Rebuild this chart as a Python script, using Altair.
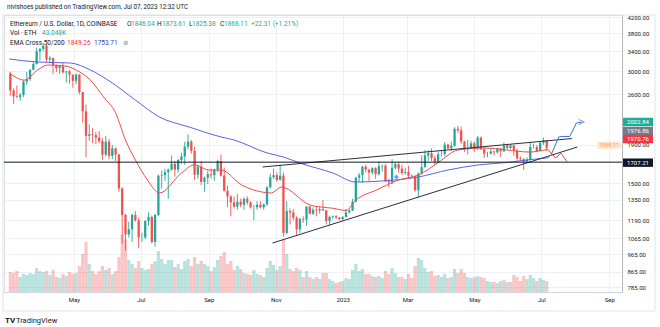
import altair as alt
import pandas as pd
import numpy as np

# ---------------- data ----------------
candle_first_day = "2022-03-03"      # 3-day candles
first_open = 2950.0
closes = [2665, 2570, 2560, 2590, 2815, 2860, 3030, 3140, 3400, 3450,
          3520, 3230, 3260, 3120, 3060, 3100, 2980, 3000, 2940, 2830,
          2940, 2640, 2340, 2010, 2030, 2020, 1990, 1945, 1790, 1940,
          1775, 1860, 1790, 1450, 1230, 1090, 1125, 1230, 1190, 1070,
          1070, 1185, 1215, 1040, 1230, 1570, 1575, 1605, 1630, 1690,
          1630, 1730, 1770, 1880, 1940, 1830, 1580, 1660, 1510, 1550,
          1585, 1575, 1630, 1720, 1570, 1430, 1380, 1330, 1295, 1335,
          1310, 1360, 1330, 1290, 1290, 1310, 1290, 1315, 1460, 1555,
          1575, 1530, 1570, 1100, 1260, 1250, 1210, 1125, 1200, 1195,
          1295, 1240, 1270, 1265, 1275, 1265, 1185, 1215, 1220, 1210,
          1200, 1215, 1250, 1265, 1335, 1550, 1575, 1660, 1630, 1600,
          1645, 1585, 1665, 1670, 1515, 1505, 1650, 1685, 1640, 1595,
          1605, 1570, 1565, 1435, 1590, 1655, 1780, 1805, 1750, 1710,
          1795, 1795, 1905, 1860, 1890, 2100, 2080, 1940, 1860, 1865,
          1920, 1870, 1990, 1850, 1800, 1800, 1825, 1815, 1860, 1825,
          1895, 1865, 1895, 1835, 1750, 1740, 1715, 1735, 1875, 1875,
          1830, 1925, 1955, 1868.11]
highs = [2990, 2700, 2750, 2620, 2840, 2990, 3040, 3180, 3480, 3470,
         3580, 3550, 3300, 3270, 3130, 3120, 3170, 3010, 3030, 2940,
         2960, 2950, 2640, 2440, 2160, 2110, 2060, 2070, 1980, 2010,
         1970, 1900, 1870, 1800, 1460, 1240, 1180, 1240, 1260, 1210,
         1100, 1190, 1250, 1225, 1240, 1580, 1620, 1640, 1640, 1780,
         1720, 1740, 1810, 1940, 2030, 1960, 1880, 1680, 1720, 1560,
         1620, 1640, 1640, 1735, 1790, 1650, 1475, 1390, 1380, 1400,
         1360, 1370, 1380, 1340, 1310, 1340, 1340, 1320, 1470, 1590,
         1640, 1600, 1680, 1600, 1340, 1280, 1275, 1220, 1210, 1220,
         1300, 1300, 1290, 1300, 1290, 1350, 1270, 1225, 1225, 1230,
         1215, 1220, 1275, 1275, 1360, 1560, 1595, 1670, 1680, 1640,
         1655, 1655, 1715, 1680, 1690, 1540, 1740, 1710, 1715, 1680,
         1650, 1670, 1580, 1570, 1600, 1780, 1840, 1840, 1860, 1780,
         1825, 1830, 1935, 1915, 1940, 2120, 2140, 2130, 1950, 1960,
         1950, 1940, 2010, 2000, 1870, 1820, 1850, 1830, 1870, 1860,
         1930, 1915, 1910, 1895, 1855, 1770, 1750, 1760, 1930, 1915,
         1900, 1935, 1990, 1960]
lows = [2580, 2450, 2540, 2500, 2560, 2760, 2830, 3020, 3130, 3210,
        3400, 3180, 3160, 2950, 2990, 2950, 2960, 2800, 2780, 2710,
        2770, 2600, 2180, 1760, 1950, 1920, 1910, 1920, 1730, 1770,
        1740, 1740, 1720, 1420, 1030, 985, 1070, 1040, 1180, 1000,
        1040, 1060, 1150, 1030, 1010, 1220, 1450, 1520, 1360, 1620,
        1560, 1600, 1690, 1680, 1850, 1800, 1530, 1540, 1480, 1420,
        1490, 1540, 1520, 1605, 1560, 1420, 1290, 1220, 1280, 1270,
        1290, 1270, 1310, 1280, 1190, 1270, 1280, 1270, 1300, 1450,
        1540, 1510, 1520, 1075, 1090, 1160, 1190, 1080, 1100, 1170,
        1150, 1235, 1230, 1220, 1240, 1260, 1160, 1150, 1200, 1200,
        1190, 1190, 1210, 1240, 1260, 1330, 1510, 1500, 1600, 1520,
        1580, 1540, 1570, 1610, 1510, 1460, 1490, 1630, 1600, 1580,
        1580, 1550, 1550, 1420, 1370, 1580, 1650, 1720, 1720, 1680,
        1700, 1770, 1770, 1850, 1830, 1880, 2050, 1910, 1820, 1790,
        1860, 1820, 1840, 1840, 1750, 1760, 1790, 1780, 1800, 1765,
        1820, 1850, 1850, 1775, 1720, 1720, 1625, 1710, 1725, 1860,
        1820, 1830, 1900, 1825]
volumes_k = [400, 380, 420, 300, 360, 340, 380, 360, 480, 420,
             400, 420, 340, 440, 300, 280, 360, 320, 400, 360,
             380, 520, 760, 1000, 560, 420, 360, 420, 520, 440,
             480, 360, 420, 700, 1150, 1050, 640, 560, 480, 620,
             480, 440, 460, 560, 620, 820, 660, 560, 640, 640,
             500, 560, 460, 620, 660, 520, 700, 560, 620, 560,
             520, 420, 500, 640, 720, 800, 560, 620, 440, 520,
             460, 380, 360, 340, 440, 360, 340, 300, 480, 620,
             540, 440, 520, 1050, 760, 460, 420, 480, 440, 300,
             420, 300, 260, 300, 260, 380, 380, 260, 220, 180,
             200, 220, 280, 260, 440, 560, 420, 460, 360, 360,
             320, 300, 320, 280, 420, 360, 480, 380, 300, 300,
             260, 360, 280, 520, 680, 640, 480, 400, 420, 320,
             340, 300, 360, 280, 300, 460, 380, 460, 380, 300,
             280, 300, 320, 300, 280, 220, 200, 200, 180, 220,
             240, 200, 200, 340, 300, 220, 320, 260, 340, 280,
             220, 280, 240, 220]

ema200_dates = ["2022-03-03", "2022-03-29", "2022-04-28", "2022-05-16", "2022-06-05",
                "2022-06-26", "2022-07-18", "2022-08-14", "2022-09-12", "2022-09-24",
                "2022-10-24", "2022-11-08", "2022-11-23", "2022-12-23", "2023-01-13",
                "2023-02-06", "2023-02-27", "2023-03-11", "2023-04-07", "2023-05-06",
                "2023-05-31", "2023-06-20", "2023-07-07"]
ema200_vals = [3240, 3180, 3160, 3027, 2792, 2511, 2260, 2124, 1997, 1959,
               1808, 1763, 1698, 1596, 1509, 1519, 1538, 1557, 1626, 1680,
               1704, 1733, 1753.71]
ema50_dates = ["2022-03-03", "2022-03-17", "2022-03-29", "2022-04-07", "2022-04-22",
               "2022-05-03", "2022-05-16", "2022-05-28", "2022-06-08", "2022-06-17",
               "2022-06-26", "2022-07-07", "2022-07-18", "2022-08-07", "2022-08-19",
               "2022-09-01", "2022-09-12", "2022-10-01", "2022-10-19", "2022-10-28",
               "2022-11-06", "2022-12-03", "2022-12-23", "2023-01-04", "2023-01-13",
               "2023-02-01", "2023-02-21", "2023-03-11", "2023-03-29", "2023-04-16",
               "2023-05-10", "2023-05-31", "2023-06-20", "2023-07-07"]
ema50_vals = [2970, 2842, 3027, 3121, 3105, 3027, 2842, 2559, 2318, 1959,
              1731, 1529, 1410, 1596, 1680, 1626, 1626, 1481, 1419, 1410,
              1463, 1306, 1282, 1265, 1348, 1437, 1528, 1576, 1702, 1841,
              1864, 1841, 1818, 1849.26]

upper_line_dates = ["2022-10-20", "2023-07-29"]
upper_line_vals = [1657, 1976.86]
lower_line_dates = ["2022-10-29", "2023-08-03"]
lower_line_vals = [1033, 1876]
level_price = 1707.21

blue_path_dates = ["2023-07-07", "2023-07-10", "2023-07-17", "2023-07-21", "2023-07-27", "2023-08-02", "2023-08-07"]
blue_path_vals = [1753.71, 1785, 1997, 2002.84, 2002.84, 2176, 2191]
red_path_dates = ["2023-07-07", "2023-07-14", "2023-07-19", "2023-07-25"]
red_path_vals = [1849.26, 1752, 1805, 1704]
cross_date, cross_val = "2023-02-19", 1557

price_ticks = [4200, 3800, 3400, 3000, 2600, 1900, 1500, 1350, 1190, 1065, 965, 865, 785]
month_ticks = ["2022-05-01", "2022-07-01", "2022-09-01", "2022-11-01", "2023-01-01",
               "2023-03-01", "2023-05-01", "2023-07-01", "2023-09-01"]

# price tags on the right scale: (price, fill colour, vertical shift used to un-stack)
axis_tags = [(2002.84, "#22ab94", -14.5), (1976.86, "#787b86", -7.6),
             (1970.76, "#f23645", 0.0), (1707.21, "#131722", 0.5)]

# ---------------- styling ----------------
GREEN, RED_C = "#26a69a", "#ef5350"
DARK, TEAL = "#131722", "#26a69a"
EMA50_C, EMA200_C = "#ef4b4b", "#5b62e6"
FONT = "Roboto"
W, H = 618, 277


def ms(s):
    return int(pd.Timestamp(s, tz="UTC").value // 1_000_000)


n = len(closes)
starts = pd.date_range(candle_first_day, periods=n, freq="3D", tz="UTC")
centers = starts + pd.Timedelta(days=1)
opens = [first_open] + closes[:-1]
candles = pd.DataFrame({
    "t": centers.asi8 // 1_000_000,
    "open": opens, "close": closes, "high": highs, "low": lows, "vol": volumes_k,
})
candles["dir"] = np.where(candles["close"] >= candles["open"], "up", "down")


def pts(dates, vals):
    return pd.DataFrame({"t": [ms(d) for d in dates], "p": vals})


xscale = alt.Scale(type="utc", domain=[ms("2022-03-02T19:25"), ms("2023-09-08T01:40")], nice=False)
xaxis = alt.Axis(values=[ms(m) for m in month_ticks],
                 labelExpr="utcFormat(datum.value, '%m') == '01' ? utcFormat(datum.value, '%Y') : utcFormat(datum.value, '%b')",
                 title=None, ticks=False, domain=True, domainColor="#d1d4dc",
                 grid=True, gridColor="#eef0f5", labelFontSize=6, labelColor=DARK,
                 labelPadding=4, labelFont=FONT, labelOverlap=False, labelFlush=False)
yscale = alt.Scale(type="log", domain=[762.2, 4258.6], nice=False)
yaxis = alt.Axis(orient="right", values=price_ticks, format=".2f", title=None, ticks=False,
                 domain=True, domainColor="#b2b5be", grid=True, gridColor="#eef0f5",
                 labelFontSize=6, labelColor=DARK, labelPadding=5, labelFont=FONT,
                 labelOverlap=False, labelFlush=False, labelBaseline="middle")


def X(f="t"):
    return alt.X(f"{f}:T", scale=xscale, axis=xaxis)


def Y(f):
    return alt.Y(f"{f}:Q", scale=yscale, axis=yaxis)


def YD(v):
    return alt.YDatum(v, type="quantitative", scale=yscale, axis=yaxis)


dir_color = alt.Color("dir:N", scale=alt.Scale(domain=["up", "down"], range=[GREEN, RED_C]), legend=None)
dummy = pd.DataFrame({"k": [0]})

volume = alt.Chart(candles).mark_bar(size=3.2, opacity=0.33).encode(
    x=X(), y=alt.Y("vol:Q", scale=alt.Scale(domain=[0, 5540], nice=False, zero=True), axis=None),
    color=dir_color)

wick = alt.Chart(candles).mark_rule(strokeWidth=0.9).encode(x=X(), y=Y("low"), y2="high", color=dir_color)
body = alt.Chart(candles).mark_bar(size=2.3).encode(x=X(), y=Y("open"), y2="close", color=dir_color)

line200 = alt.Chart(pts(ema200_dates, ema200_vals)).mark_line(
    color=EMA200_C, strokeWidth=1, interpolate="monotone").encode(x=X(), y=Y("p"))
line50 = alt.Chart(pts(ema50_dates, ema50_vals)).mark_line(
    color=EMA50_C, strokeWidth=1, interpolate="monotone").encode(x=X(), y=Y("p"))

upper = alt.Chart(pts(upper_line_dates, upper_line_vals)).mark_line(
    color="#2a2e39", strokeWidth=1).encode(x=X(), y=Y("p"))
lower = alt.Chart(pts(lower_line_dates, lower_line_vals)).mark_line(
    color="#2a2e39", strokeWidth=1).encode(x=X(), y=Y("p"))
level = alt.Chart(dummy).mark_rule(color="#131722", strokeWidth=1).encode(y=YD(level_price))

blue_path = alt.Chart(pts(blue_path_dates, blue_path_vals)).mark_line(
    color="#3b6fe0", strokeWidth=1).encode(x=X(), y=Y("p"))
red_path = alt.Chart(pts(red_path_dates, red_path_vals)).mark_line(
    color="#e8413c", strokeWidth=1).encode(x=X(), y=Y("p"))
arrow = alt.Chart(pts(blue_path_dates[-1:], blue_path_vals[-1:])).mark_point(
    shape="M-1,-0.8L0.8,0L-1,0.8", size=40, filled=False, color="#3b6fe0", strokeWidth=1).encode(
    x=X(), y=Y("p"))
cross = alt.Chart(pts([cross_date], [cross_val])).mark_point(
    shape="cross", size=18, filled=True, color="#2962ff").encode(x=X(), y=Y("p"))

layers = [wick, body, line200, line50, upper, lower, level, blue_path, red_path, arrow, cross]

# faint last-price tag inside the pane
layers.append(alt.Chart(dummy).mark_point(
    shape="M-1,-0.3H1V0.3H-1Z", size=576, filled=True, color="#fde3cf", opacity=0.9,
    strokeWidth=0, yOffset=-2.5).encode(x=alt.value(605), y=YD(1868.11)))
layers.append(alt.Chart(dummy).mark_text(
    fontSize=5.5, color="#f5a05a", font=FONT, align="center", baseline="middle", yOffset=-2.5).encode(
    x=alt.value(605), y=YD(1868.11), text=alt.value("1868.11")))

for price, fill, dy in axis_tags:
    layers.append(alt.Chart(dummy).mark_point(
        shape="M-1,-0.28H1V0.28H-1Z", size=900, filled=True, color=fill, opacity=1,
        strokeWidth=0, yOffset=dy).encode(x=alt.value(634), y=YD(price)))
    layers.append(alt.Chart(dummy).mark_text(
        fontSize=6, color="white", font=FONT, align="center", baseline="middle", yOffset=dy).encode(
        x=alt.value(634), y=YD(price), text=alt.value(f"{price:.2f}")))

# frame around the chart
layers.append(alt.Chart(dummy).mark_rect(filled=False, stroke="#e0e3eb", strokeWidth=1).encode(
    x=alt.value(-1), x2=alt.value(651), y=alt.value(0), y2=alt.value(296)))

# header / legend / footer texts: (text, x, y, colour, size, weight, font)
texts = [
    ("nivishoes published on TradingView.com, Jul 07, 2023 12:32 UTC", 3, -8, DARK, 6.3, "normal", FONT),
    ("Ethereum / U.S. Dollar, 1D, COINBASE", 6, 9, DARK, 6.5, "normal", FONT),
    ("O", 123, 9, DARK, 6.5, "normal", FONT), ("1846.04", 127, 9, TEAL, 6.5, "normal", FONT),
    ("H", 153, 9, DARK, 6.5, "normal", FONT), ("1873.61", 158, 9, TEAL, 6.5, "normal", FONT),
    ("L", 185, 9, DARK, 6.5, "normal", FONT), ("1825.38", 188, 9, TEAL, 6.5, "normal", FONT),
    ("C", 216, 9, DARK, 6.5, "normal", FONT), ("1868.11", 220, 9, TEAL, 6.5, "normal", FONT),
    ("+22.31 (+1.21%)", 247, 9, TEAL, 6.5, "normal", FONT),
    ("Vol · ETH", 6, 18, DARK, 6.5, "normal", FONT), ("43.048K", 38, 18, TEAL, 6.5, "normal", FONT),
    ("EMA Cross 50/200", 6, 28, DARK, 6.5, "normal", FONT),
    ("1849.26", 63, 28, "#f23645", 6.5, "normal", FONT),
    ("1753.71", 90, 28, "#3446c9", 6.5, "normal", FONT),
    ("⊘", 119, 28, "#787b86", 6.5, "normal", "DejaVu Sans"),
    ("TV", 1, 306, DARK, 8, "bold", FONT),
    ("TradingView", 12, 306, DARK, 7.5, "normal", FONT),
]
for t, x, y, c, s, w, f in texts:
    layers.append(alt.Chart(dummy).mark_text(
        fontSize=s, color=c, font=f, fontWeight=w, align="left", baseline="middle").encode(
        x=alt.value(x), y=alt.value(y), text=alt.value(t)))

price_layer = alt.layer(*layers)

chart = alt.layer(volume, price_layer).resolve_scale(y="independent").properties(
    width=W, height=H,
    padding={"left": 4, "top": 15, "right": 38, "bottom": 35},
    autosize=alt.AutoSizeParams(type="none"),
    background="white",
).configure_view(strokeWidth=0).configure(font=FONT)

chart.save("out.html", embed_options={"renderer": "svg", "actions": False})
